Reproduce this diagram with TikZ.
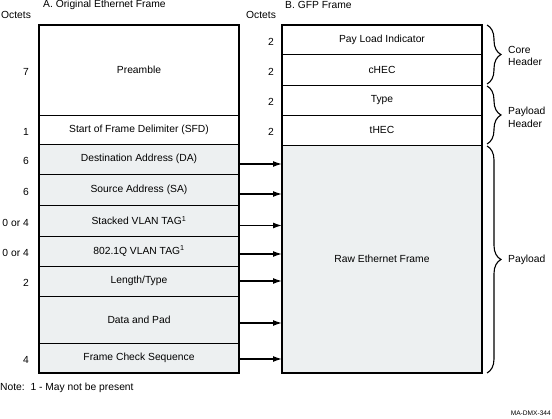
\documentclass[tikz,border=0pt]{standalone}
\usepackage{fontspec}
\setmainfont{Liberation Sans}
\usetikzlibrary{positioning, calc, arrows.meta, decorations.pathreplacing}
\definecolor{fieldgray}{RGB}{237,240,241}
\tikzset{
    field/.style={
        rectangle,
        draw=black,
        line width=0.9pt,
        outer sep=0pt,
        inner sep=0pt,
        minimum width=200pt,
        align=center,
        font=\fontsize{10.3}{12}\selectfont
    },
    hfield/.style={
        field,
        fill=white
    },
    pfield/.style={
        field,
        fill=fieldgray
    },
    outline/.style={
        draw=black,
        line width=1.6pt
    },
    txt/.style={
        inner sep=0pt,
        align=left,
        font=\fontsize{10.3}{12.8}\selectfont
    },
    arrow/.style={
        line width=1.3pt,
        -{Latex[length=9pt,width=6pt]}
    },
    brace/.style={
        decorate,
        decoration={brace, amplitude=14pt},
        line width=1.1pt
    },
}
\begin{document}
\begin{tikzpicture}[x=1pt, y=-1pt]
\useasboundingbox (0,0) rectangle (552,419);

% Titles
\node[txt, anchor=west] (titleA) at (43,5) {A. Original Ethernet Frame};
\node[txt, anchor=west] (titleB) at (285,5) {B. GFP Frame};
\node[txt, anchor=west] (octetsA) at (1,15) {Octets};
\node[txt, anchor=west] (octetsB) at (246,15) {Octets};

% Original Ethernet frame
\node[hfield, minimum height=90pt, anchor=north west] (pre) at (39,25) {Preamble};
\node[hfield, minimum height=29pt, below=0pt of pre] (sfd) {Start of Frame Delimiter (SFD)};
\node[pfield, minimum height=30pt, below=0pt of sfd] (da) {Destination Address (DA)};
\node[pfield, minimum height=31pt, below=0pt of da] (sa) {Source Address (SA)};
\node[pfield, minimum height=31pt, below=0pt of sa] (svlan) {Stacked VLAN TAG\textsuperscript{1}};
\node[pfield, minimum height=30pt, below=0pt of svlan] (qvlan) {802.1Q VLAN TAG\textsuperscript{1}};
\node[pfield, minimum height=30pt, below=0pt of qvlan] (len) {Length/Type};
\node[pfield, minimum height=47pt, below=0pt of len] (data) {Data and Pad};
\node[pfield, minimum height=30pt, below=0pt of data] (fcs) {Frame Check Sequence};
\draw[outline] (pre.north west) rectangle (fcs.south east);

% GFP frame
\node[hfield, minimum height=29pt, anchor=north west] (pli) at (282,25) {Pay Load Indicator};
\node[hfield, minimum height=31pt, below=0pt of pli] (chec) {cHEC};
\node[hfield, minimum height=30pt, below=0pt of chec] (type) {Type};
\node[hfield, minimum height=30pt, below=0pt of type] (thec) {tHEC};
\node[pfield, minimum height=228pt, below=0pt of thec] (raw) {Raw Ethernet Frame};
\draw[outline] (pli.north west) rectangle (raw.south east);

% Octet counts
\node[txt, left=10pt of pre, yshift=-2pt] (npre) {7};
\node[txt, left=10pt of sfd, yshift=-2pt] (nsfd) {1};
\node[txt, left=10pt of da, yshift=-2pt] (nda) {6};
\node[txt, left=10pt of sa, yshift=-2pt] (nsa) {6};
\node[txt, left=10pt of svlan, yshift=-2pt] (nsvlan) {0 or 4};
\node[txt, left=10pt of qvlan, yshift=-2pt] (nqvlan) {0 or 4};
\node[txt, left=10pt of len, yshift=-2pt] (nlen) {2};
\node[txt, left=10pt of fcs, yshift=-2pt] (nfcs) {4};
\foreach \f in {pli, chec, type, thec}
    \node[txt, left=8pt of \f, yshift=-2pt] (n\f) {2};

% Arrows into the payload
\foreach \f/\d in {da/5, sa/4.5, svlan/5, qvlan/3, len/0, data/3.5, fcs/1}
    \draw[arrow] (\f.east) ++(0,\d) coordinate (s\f) -- (s\f -| raw.west);

% Braces
\draw[brace] ($(pli.north east)+(5,0)$) -- ($(chec.south east)+(5,-1)$);
\draw[brace] ($(type.north east)+(5,1)$) -- ($(thec.south east)+(5,-1)$);
\draw[brace] ($(raw.north east)+(5,1)$) -- ($(raw.south east)+(5,0)$);
\node[txt, anchor=west] (core) at ($(pli.south east)+(26,2)$) {Core\\Header};
\node[txt, anchor=west] (phead) at ($(type.south east)+(26,2)$) {Payload\\Header};
\node[txt, anchor=west] (payload) at ($(raw.east)+(26,1)$) {Payload};

% Footnote
\node[txt, anchor=west] (note) at (0,388) {Note:\ \ 1 - May not be present};
\node[txt, anchor=east, font=\fontsize{6.6}{7}\selectfont] (figid) at (551,413) {MA-DMX-344};

\end{tikzpicture}
\end{document}
